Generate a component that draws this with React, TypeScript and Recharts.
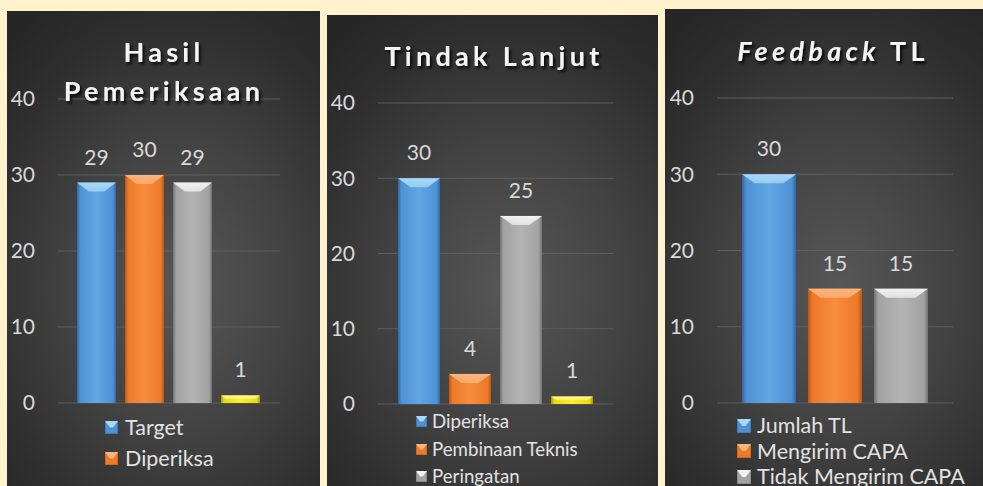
import React from 'react';
import { BarChart, Bar, XAxis, YAxis, CartesianGrid, LabelList, Legend } from 'recharts';

// ---------- data ----------
const yTicks = [0, 10, 20, 30, 40];

const hasilTitle = ['Hasil', 'Pemeriksaan'];
const hasilLegend = ['Target', 'Diperiksa'];
const hasilValues = [29, 30, 29, 1];

const tindakTitle = ['Tindak Lanjut'];
const tindakLegend = ['Diperiksa', 'Pembinaan Teknis', 'Peringatan'];
const tindakValues = [30, 4, 25, 1];

const feedbackTitleItalic = 'Feedback';
const feedbackTitleRest = 'TL';
const feedbackLegend = ['Jumlah TL', 'Mengirim CAPA', 'Tidak Mengirim CAPA'];
const feedbackValues = [30, 15, 15];

// ---------- styles ----------
const FONT = "Lato, 'Open Sans', 'Noto Sans', sans-serif";
const TEXT = '#d9d9d9';

type Pal = { base: string; mid: string; edge: string; top: string };
const PAL: Pal[] = [
  { base: '#4f92d4', mid: '#62a6e6', edge: '#2f67a3', top: '#a9d8f8' },
  { base: '#ec7a2a', mid: '#f88d3c', edge: '#b85814', top: '#fbb47e' },
  { base: '#a2a2a2', mid: '#b4b4b4', edge: '#727272', top: '#f2f2f2' },
  { base: '#eadb12', mid: '#fbee30', edge: '#a89800', top: '#fff78e' },
];

function BevelBar(props: any) {
  const { x, y, width, height, pal, uid } = props;
  if (!(height > 0) || !(width > 0)) return null;
  const bh = Math.min(9, height * 0.45);
  const inset = Math.min(width * 0.3, bh * 1.4);
  const gid = 'bg' + uid;
  const tid = 'tg' + uid;
  return (
    <g>
      <defs>
        <linearGradient id={gid} x1="0" y1="0" x2="1" y2="0">
          <stop offset="0" stopColor={pal.edge} />
          <stop offset="0.08" stopColor={pal.base} />
          <stop offset="0.5" stopColor={pal.mid} />
          <stop offset="0.92" stopColor={pal.base} />
          <stop offset="1" stopColor={pal.edge} />
        </linearGradient>
        <linearGradient id={tid} x1="0" y1="0" x2="0" y2="1">
          <stop offset="0" stopColor={pal.top} stopOpacity={1} />
          <stop offset="1" stopColor={pal.top} stopOpacity={0.75} />
        </linearGradient>
      </defs>
      <rect x={x} y={y} width={width} height={height} fill={`url(#${gid})`} />
      <polygon
        points={`${x},${y} ${x + width},${y} ${x + width - inset},${y + bh} ${x + inset},${y + bh}`}
        fill={`url(#${tid})`}
      />
    </g>
  );
}

function Marker({ pal, size }: { pal: Pal; size: number }) {
  const s = size;
  return (
    <svg width={s} height={s} style={{ display: 'block', flex: '0 0 auto' }}>
      <rect x={0} y={0} width={s} height={s} fill={pal.base} stroke={pal.edge} strokeWidth={1} />
      <polygon points={`0,0 ${s},0 ${s * 0.62},${s * 0.5} ${s * 0.38},${s * 0.5}`} fill={pal.top} />
    </svg>
  );
}

const renderLabel = (p: any) => {
  const x = Number(p.x) + Number(p.width) / 2;
  const y = Number(p.y) - 18;
  return (
    <text x={x} y={y} textAnchor="middle" fill={TEXT} fontSize={21} fontFamily={FONT}>
      {p.value}
    </text>
  );
};

type LegendCfg = { left: number; top: number; rowH: number; marker: number; gap: number; fontSize: number };

type PanelProps = {
  id: string;
  left: number;
  top: number;
  w: number;
  h: number;
  margin: { top: number; right: number; bottom: number; left: number };
  yWidth: number;
  catGap: number;
  barGap: number;
  values: number[];
  legend: string[];
  lg: LegendCfg;
  title: React.ReactNode;
};

function Panel(p: PanelProps) {
  const row: any = { cat: p.id };
  p.values.forEach((v, i) => (row['s' + i] = v));
  const data = [row];
  return (
    <div
      style={{
        position: 'absolute',
        left: p.left,
        top: p.top,
        width: p.w,
        height: p.h,
        overflow: 'hidden',
        background:
          'radial-gradient(ellipse 80% 70% at 55% 58%, #575757 0%, #424242 45%, #2e2e2e 80%, #262626 100%)',
      }}
    >
      <BarChart
        width={p.w}
        height={p.h}
        data={data}
        margin={p.margin}
        barCategoryGap={p.catGap}
        barGap={p.barGap}
      >
        <CartesianGrid vertical={false} stroke="#5e5e5e" strokeWidth={1} />
        <XAxis
          dataKey="cat"
          type="category"
          tick={false}
          tickLine={false}
          axisLine={{ stroke: '#a8a8a8', strokeWidth: 2 }}
          height={0}
        />
        <YAxis
          type="number"
          domain={[0, 40]}
          ticks={yTicks}
          axisLine={false}
          tickLine={false}
          tickSize={0}
          tickMargin={23}
          width={p.yWidth}
          tick={{ fill: TEXT, fontSize: 21, fontFamily: FONT }}
        />
        <Legend
          layout="vertical"
          align="center"
          verticalAlign="middle"
          wrapperStyle={{ left: p.lg.left, top: p.lg.top, width: 260, margin: 0, padding: 0 }}
          content={() => (
            <div>
              {p.legend.map((name, i) => (
                <div
                  key={name + i}
                  style={{
                    display: 'flex',
                    alignItems: 'center',
                    height: p.lg.rowH,
                    fontFamily: FONT,
                    fontSize: p.lg.fontSize,
                    color: '#e2e2e2',
                    whiteSpace: 'nowrap',
                  }}
                >
                  <Marker pal={PAL[i]} size={p.lg.marker} />
                  <span style={{ marginLeft: p.lg.gap, lineHeight: 1 }}>{name}</span>
                </div>
              ))}
            </div>
          )}
        />
        {p.values.map((_, i) => (
          <Bar
            key={'s' + i}
            dataKey={'s' + i}
            name={p.legend[i] ?? ''}
            fill={PAL[i].base}
            isAnimationActive={false}
            shape={(sp: any) => <BevelBar {...sp} pal={PAL[i]} uid={`${p.id}-${i}`} />}
          >
            <LabelList dataKey={'s' + i} content={renderLabel} />
          </Bar>
        ))}
      </BarChart>
      <svg
        width={p.w}
        height={p.h}
        style={{ position: 'absolute', left: 0, top: 0, pointerEvents: 'none' }}
      >
        <defs>
          <filter id={'sh' + p.id} x="-10%" y="-30%" width="130%" height="180%">
            <feDropShadow dx="2" dy="2.5" stdDeviation="1.5" floodColor="#000" floodOpacity="0.85" />
          </filter>
        </defs>
        <g filter={`url(#sh${p.id})`}>{p.title}</g>
      </svg>
    </div>
  );
}

const titleStyle = {
  fill: '#f4f4f4',
  fontFamily: FONT,
  fontWeight: 700,
  fontSize: 27,
  letterSpacing: 4.3,
  textAnchor: 'middle' as const,
};

export default function App() {
  return (
    <div
      style={{
        position: 'fixed',
        left: 0,
        top: 0,
        width: 983,
        height: 486,
        overflow: 'hidden',
        background: '#fff2cc',
      }}
    >
      <Panel
        id="p1"
        left={7}
        top={11}
        w={313}
        h={475}
        margin={{ top: 88, right: 40, bottom: 83, left: 0 }}
        yWidth={51}
        catGap={19}
        barGap={9}
        values={hasilValues}
        legend={hasilLegend}
        lg={{ left: 98, top: 401, rowH: 31, marker: 13, gap: 7, fontSize: 21.5 }}
        title={
          <>
            <text x={157} y={51} {...titleStyle}>{hasilTitle[0]}</text>
            <text x={157} y={90} {...titleStyle}>{hasilTitle[1]}</text>
          </>
        }
      />
      <Panel
        id="p2"
        left={327}
        top={15}
        w={331}
        h={471}
        margin={{ top: 88, right: 45, bottom: 82, left: 0 }}
        yWidth={51}
        catGap={20}
        barGap={9}
        values={tindakValues}
        legend={tindakLegend}
        lg={{ left: 89, top: 393, rowH: 27.5, marker: 11, gap: 5, fontSize: 18.7 }}
        title={<text x={167} y={51} {...titleStyle}>{tindakTitle[0]}</text>}
      />
      <Panel
        id="p3"
        left={665}
        top={9}
        w={318}
        h={477}
        margin={{ top: 89, right: 30, bottom: 83, left: 0 }}
        yWidth={52}
        catGap={25}
        barGap={12}
        values={feedbackValues}
        legend={feedbackLegend}
        lg={{ left: 72, top: 404, rowH: 25.5, marker: 14, gap: 6, fontSize: 21.5 }}
        title={
          <text x={168} y={52} {...titleStyle}>
            <tspan fontStyle="italic">{feedbackTitleItalic}</tspan> {feedbackTitleRest}
          </text>
        }
      />
    </div>
  );
}
